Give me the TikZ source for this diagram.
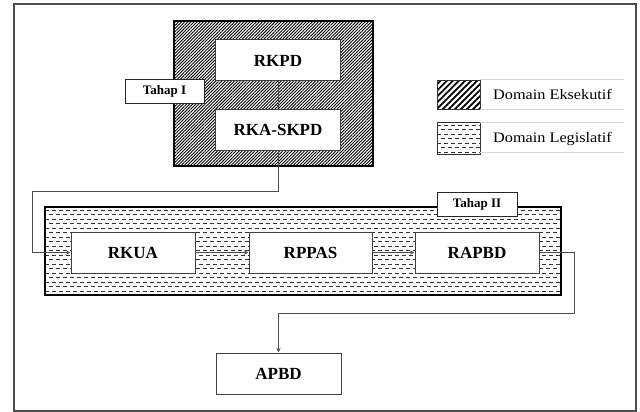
\documentclass[tikz,border=0pt]{standalone}
\usepackage{fontspec}
\setmainfont{Liberation Serif}
\newfontfamily\legfont[FakeStretch=1.12]{Liberation Serif}
\usetikzlibrary{arrows.meta,patterns.meta}
\tikzset{
  box/.style={draw=black!75, line width=1pt, fill=white, minimum width=125pt, minimum height=41pt, inner sep=0pt, font=\bfseries\fontsize{17}{19}\selectfont},
  tahap/.style={draw=black!85, line width=1pt, fill=white, minimum width=79pt, minimum height=23pt, inner sep=0pt, font=\bfseries\fontsize{13}{15}\selectfont},
  conn/.style={draw=black!70, line width=0.8pt, -{Stealth[length=4.5pt,width=4pt]}},
  legtext/.style={anchor=west, inner sep=0pt, font=\legfont\fontsize{14.5}{16}\selectfont},
  rule/.style={draw=black!15, line width=0.8pt},
  dashrow/.style={draw=black!80, line width=0.6pt}
}
\begin{document}
\begin{tikzpicture}[x=1pt,y=-1pt]
\useasboundingbox (0,0) rectangle (640,412);
% outer frame
\draw[black!70, line width=1.5pt] (14,4) rectangle (636,411);
% executive domain
\fill[pattern={Lines[angle=45,distance=2.2pt,line width=0.9pt]}] (174,21) rectangle (373,166);
\draw[black, line width=2pt] (174,21) rectangle (373,166);
% legislative domain
\begin{scope}
\clip (45,207) rectangle (561,295);
\foreach \k in {0,...,9} {
  \draw[dashrow, dash pattern=on 4pt off 3pt, dash phase=0pt] (45,{210+9*\k}) -- (561,{210+9*\k});
  \draw[dashrow, dash pattern=on 4pt off 3pt, dash phase=3.5pt] (45,{214.5+9*\k}) -- (561,{214.5+9*\k});
}
\end{scope}
\draw[black, line width=2pt] (45,207) rectangle (561,295);
% nodes
\node[box] (rkpd) at (278,60.5) {RKPD};
\node[box] (rka) at (278,129.5) {RKA-SKPD};
\node[tahap] (t1) at (164.5,91.5) {Tahap I};
\node[box, minimum width=124pt] (rkua) at (133,252.5) {RKUA};
\node[box, minimum width=123pt] (rppas) at (310.5,252.5) {RPPAS};
\node[box, minimum width=124pt] (rapbd) at (477,252.5) {RAPBD};
\node[tahap, minimum width=80pt, minimum height=24pt] (t2) at (477,204) {Tahap II};
\node[box] (apbd) at (278.5,373.5) {APBD};
% connectors
\coordinate (c1) at (278,191);
\coordinate (c2) at (32,191);
\coordinate (c3) at (32,252.5);
\coordinate (c4) at (574,252.5);
\coordinate (c5) at (574,313);
\coordinate (c6) at (278.5,313);
\draw[conn] (rkpd.south) -- (rka.north);
\draw[conn] (rka.south) -- (c1) -- (c2) -- (c3) -- (rkua.west);
\draw[conn] (rkua.east) -- (rppas.west);
\draw[conn] (rppas.east) -- (rapbd.west);
\draw[conn] (rapbd.east) -- (c4) -- (c5) -- (c6) -- (apbd.north);
% legend
\fill[white] (437,81) rectangle (480,109);
\fill[pattern={Lines[angle=45,distance=4.3pt,line width=1.8pt]}] (437,81) rectangle (480,109);
\draw[black!80, line width=1pt] (437,81) rectangle (480,109);
\begin{scope}
\clip (437,122) rectangle (480,154);
\foreach \k in {0,...,3} {
  \draw[dashrow, dash pattern=on 4pt off 3pt, dash phase=0pt] (437,{125+9*\k}) -- (480,{125+9*\k});
  \draw[dashrow, dash pattern=on 4pt off 3pt, dash phase=3.5pt] (437,{129.5+9*\k}) -- (480,{129.5+9*\k});
}
\end{scope}
\draw[black!80, line width=1pt] (437,122) rectangle (480,154);
\draw[rule] (480,79) -- (624,79);
\draw[rule] (480,109) -- (624,109);
\draw[rule] (480,122) -- (624,122);
\draw[rule] (480,152) -- (624,152);
\node[legtext] (le) at (493,94) {Domain Eksekutif};
\node[legtext] (ll) at (493,139) {Domain Legislatif};
\end{tikzpicture}
\end{document}
